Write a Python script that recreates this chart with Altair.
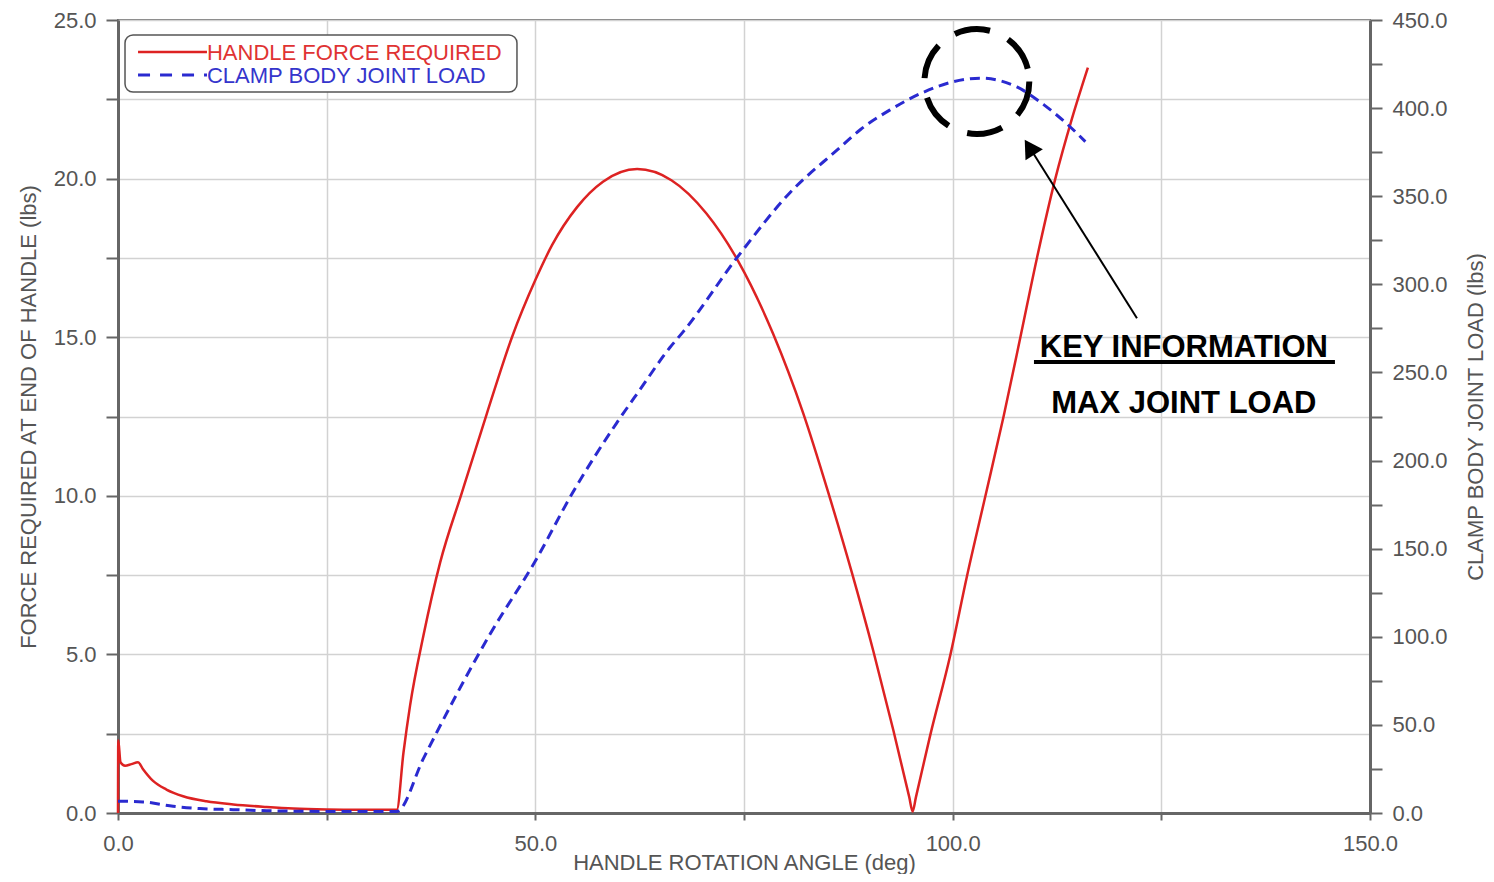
import altair as alt
import pandas as pd

# ---- data ----
force_angle = [0.0, 0.03, 0.3, 0.85, 1.6, 2.4, 3.0, 4.2, 5.8, 7.8, 10.6, 13.8, 17.8, 21.0, 25.0, 29.0, 33.4,
               34.2, 35.0, 36.6, 38.6, 41.2, 44.2, 47.2, 50.0, 52.0, 55.0, 58.1, 62.2, 66.3, 70.5, 74.3, 78.5,
               82.1, 85.1, 87.9, 90.5, 92.9, 94.8, 95.2, 95.6, 97.3, 99.7, 101.7, 103.9, 106.1, 108.1, 110.1,
               112.3, 114.3, 116.2]
force_lbs = [0.0, 2.29, 1.6, 1.49, 1.54, 1.6, 1.38, 1.01, 0.74, 0.53, 0.37, 0.27, 0.19, 0.14, 0.11, 0.10, 0.10,
             1.9, 3.4, 5.6, 7.9, 10.1, 12.6, 15.0, 16.8, 17.9, 19.1, 19.9, 20.3, 19.95, 18.9, 17.4, 15.1,
             12.6, 10.1, 7.6, 5.1, 2.6, 0.5, 0.05, 0.5, 2.44, 4.96, 7.45, 9.97, 12.5, 14.98, 17.5,
             20.0, 21.9, 23.5]

load_angle = [0.0, 3.0, 6.6, 9.8, 13.8, 17.8, 25.0, 33.4, 36.6, 40.6, 44.6, 50.0, 54.5, 59.7, 62.5, 66.1,
              67.7, 74.3, 80.5, 86.1, 89.0, 92.5, 96.5, 100.1, 103.3, 107.7, 110.9, 113.7, 115.9]
load_lbs = [6.7, 6.3, 3.8, 2.5, 1.9, 1.3, 0.9, 0.9, 31, 67.6, 101.7, 143, 182, 221, 240, 264,
            273, 316, 352, 376, 388, 399, 409, 415, 417, 412, 402, 391, 381]

series_names = ["HANDLE FORCE REQUIRED", "CLAMP BODY JOINT LOAD"]
x_ticks = [0, 25, 50, 75, 100, 125, 150]
left_ticks = [0, 2.5, 5, 7.5, 10, 12.5, 15, 17.5, 20, 22.5, 25]
right_ticks = [0, 25, 50, 75, 100, 125, 150, 175, 200, 225, 250, 275, 300, 325, 350, 375, 400, 425, 450]
note_lines = ["KEY INFORMATION", "MAX JOINT LOAD"]

FONT = "Liberation Sans"
GRAY = "#555555"
RED = "#dd2222"
BLUE = "#2a2ad0"

force_df = pd.DataFrame({"angle": force_angle, "force": force_lbs, "i": range(len(force_angle))})
load_df = pd.DataFrame({"angle": load_angle, "load": load_lbs, "i": range(len(load_angle))})

xscale = alt.Scale(domain=[0, 150], nice=False)
lscale = alt.Scale(domain=[0, 25], nice=False)
rscale = alt.Scale(domain=[0, 450], nice=False)

x_axis = alt.Axis(values=x_ticks, labelExpr="datum.value % 50 === 0 ? format(datum.value, '.1f') : ''",
                  title="HANDLE ROTATION ANGLE (deg)", grid=True, gridColor="#d2d2d2", gridWidth=1.5,
                  tickSize=7, tickColor="#666", tickWidth=2, labelPadding=13, labelFlush=False,
                  labelFont=FONT, labelFontSize=22, labelColor=GRAY,
                  titleFont=FONT, titleFontSize=22, titleFontWeight="normal", titleColor=GRAY,
                  titleY=56, titleBaseline="alphabetic",
                  domainColor="#666", domainWidth=3)
left_axis = alt.Axis(values=left_ticks, labelExpr="datum.value % 5 === 0 ? format(datum.value, '.1f') : ''",
                     title="FORCE REQUIRED AT END OF HANDLE (lbs)", grid=True, gridColor="#d2d2d2", gridWidth=1.5,
                     tickSize=12, tickColor="#666", tickWidth=2, labelPadding=10,
                     labelFont=FONT, labelFontSize=22, labelColor=GRAY,
                     titleFont=FONT, titleFontSize=22, titleFontWeight="normal", titleColor=GRAY,
                     titleAngle=270, titleX=-90, titleBaseline="middle",
                     domainColor="#666", domainWidth=3)
right_axis = alt.Axis(orient="right", values=right_ticks,
                      labelExpr="datum.value % 50 === 0 ? format(datum.value, '.1f') : ''",
                      title="CLAMP BODY JOINT LOAD (lbs)", grid=False,
                      tickSize=12, tickColor="#666", tickWidth=2, labelPadding=10,
                      labelFont=FONT, labelFontSize=22, labelColor=GRAY,
                      titleFont=FONT, titleFontSize=22, titleFontWeight="normal", titleColor=GRAY,
                      titleAngle=270, titleX=105, titleBaseline="middle",
                      domainColor="#666", domainWidth=3)


def X(field):
    return alt.X(field, scale=xscale, axis=x_axis)


def YL(field):
    return alt.Y(field, scale=lscale, axis=left_axis)


red = alt.Chart(force_df).mark_line(color=RED, strokeWidth=2.5, interpolate="monotone").encode(
    x=X("angle:Q"), y=YL("force:Q"), order="i:Q")

# annotation geometry (in data units of the left axis)
circle_df = pd.DataFrame({"angle": [102.9], "force": [23.06]})
circle = alt.Chart(circle_df).mark_point(shape="circle", size=11000, filled=False, color="black",
                                         strokeWidth=6, strokeDash=[36, 20], opacity=1).encode(
    x=X("angle:Q"), y=YL("force:Q"))

arrow_df = pd.DataFrame({"angle": [122.08], "force": [15.6], "x2": [109.2], "y2": [20.99]})
arrow = alt.Chart(arrow_df).mark_rule(color="black", strokeWidth=2).encode(
    x=X("angle:Q"), x2="x2:Q", y=YL("force:Q"), y2="y2:Q")
head_df = pd.DataFrame({"angle": [109.2], "force": [20.99]})
head = alt.Chart(head_df).mark_point(shape="triangle-up", size=420, filled=True, color="black",
                                     angle=327.8, opacity=1).encode(
    x=X("angle:Q"), y=YL("force:Q"))

note_df = pd.DataFrame({"angle": [127.7, 127.7], "force": [14.376, 12.61], "t": note_lines})
note = alt.Chart(note_df).mark_text(font=FONT, fontSize=31, fontWeight="bold", color="black",
                                    align="center", baseline="alphabetic").encode(
    x=X("angle:Q"), y=YL("force:Q"), text="t:N")
uline_df = pd.DataFrame({"angle": [109.74], "x2": [145.8], "force": [14.218]})
uline = alt.Chart(uline_df).mark_rule(color="black", strokeWidth=4).encode(
    x=X("angle:Q"), x2="x2:Q", y=YL("force:Q"))

# legend
box_df = pd.DataFrame({"angle": [0.84], "x2": [47.8], "force": [22.73], "y2": [24.53]})
box = alt.Chart(box_df).mark_rect(fill="white", stroke="#555", strokeWidth=1.5, cornerRadius=8).encode(
    x=X("angle:Q"), x2="x2:Q", y=YL("force:Q"), y2="y2:Q")
lg_red_df = pd.DataFrame({"angle": [2.4], "x2": [10.66], "force": [23.99]})
lg_red = alt.Chart(lg_red_df).mark_rule(color=RED, strokeWidth=2.5).encode(
    x=X("angle:Q"), x2="x2:Q", y=YL("force:Q"))
lg_blue_df = pd.DataFrame({"angle": [2.4], "x2": [10.66], "force": [23.27]})
lg_blue = alt.Chart(lg_blue_df).mark_rule(color=BLUE, strokeWidth=3, strokeDash=[12, 10]).encode(
    x=X("angle:Q"), x2="x2:Q", y=YL("force:Q"))
lg_txt_df = pd.DataFrame({"angle": [10.66, 10.66], "force": [23.74, 23.01], "t": series_names})
lg_txt = alt.Chart(lg_txt_df).mark_text(font=FONT, fontSize=22, align="left", baseline="alphabetic").encode(
    x=X("angle:Q"), y=YL("force:Q"), text="t:N",
    color=alt.Color("t:N", scale=alt.Scale(domain=series_names, range=["#e03333", "#3535cc"]), legend=None))

left = alt.layer(red, box, lg_red, lg_blue, lg_txt, circle, arrow, head, note, uline)

blue = alt.Chart(load_df).mark_line(color=BLUE, strokeWidth=3, strokeDash=[10, 6], interpolate="monotone").encode(
    x=X("angle:Q"),
    y=alt.Y("load:Q", scale=rscale, axis=right_axis),
    order="i:Q",
)

chart = alt.layer(left, blue).resolve_scale(y="independent").properties(
    width=1252, height=793,
    autosize=alt.AutoSizeParams(type="none"),
    padding={"left": 110, "top": 12, "right": 116, "bottom": 61},
).configure_view(stroke="#777", strokeWidth=2)

chart.save("out.html", embed_options={"renderer": "svg", "actions": False})
